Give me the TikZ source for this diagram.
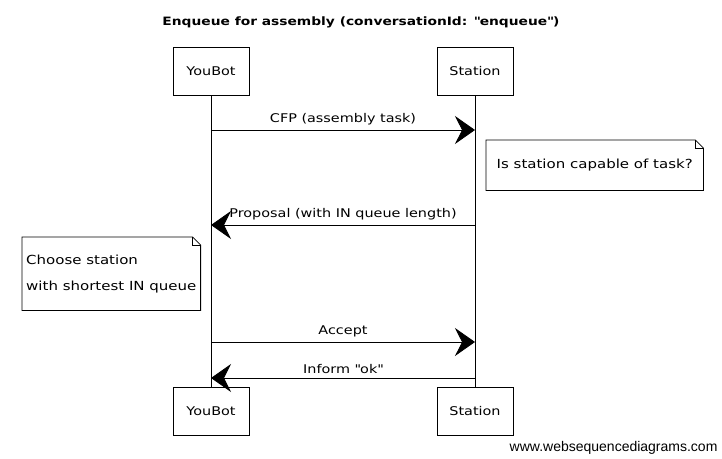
\documentclass[tikz,border=0pt]{standalone}
\usepackage{fontspec}
\setmainfont{DejaVu Sans}[FakeStretch=1.2]
\newfontfamily\wsdfont{Liberation Sans}
\usetikzlibrary{arrows.meta}

\newcommand{\notefold}[1]{%
  \draw[line width=0.8pt] (#1.south west) -- (#1.north west) -- ([xshift=-8pt]#1.north east)
    -- ([yshift=-8pt]#1.north east) -- (#1.south east) -- cycle;
  \draw[line width=0.6pt] ([xshift=-8pt]#1.north east) -- ([xshift=-8pt,yshift=-8pt]#1.north east)
    -- ([yshift=-8pt]#1.north east);}

\begin{document}
\begin{tikzpicture}[x=1pt,y=-1pt,
  actor/.style = {draw, line width=0.8pt, minimum width=76pt, minimum height=48pt, font=\fontsize{12}{14}\selectfont},
  note/.style = {align=left, anchor=north west, inner xsep=5pt, font=\fontsize{12.5}{26}\selectfont},
  msg/.style = {-{Stealth[length=20pt,width=28pt,inset=7pt]}, line width=0.8pt},
  lbl/.style = {midway, above=1pt, font=\fontsize{12}{14}\selectfont}]
\useasboundingbox (0,0) rectangle (722,458);
% title
\node (title) at (361,22) {\fontsize{11.5}{14}\selectfont\bfseries Enqueue for assembly (conversationId: \textquotedbl enqueue\textquotedbl)};
% participants
\node[actor] (bot) at (211,71) {YouBot};
\node[actor] (st) at (475,71) {Station};
\node[actor] (bot2) at (211,411) {YouBot};
\node[actor] (st2) at (475,411) {Station};
\draw[line width=0.6pt] (bot) -- (bot2);
\draw[line width=0.6pt] (st) -- (st2);
% points on the lifelines
\coordinate (b1) at (211,130); \coordinate (s1) at (475,130);
\coordinate (b2) at (211,225); \coordinate (s2) at (475,225);
\coordinate (b3) at (211,342); \coordinate (s3) at (475,342);
\coordinate (b4) at (211,378); \coordinate (s4) at (475,378);
% messages
\draw[msg] (b1) -- (s1) node[lbl] {CFP (assembly task)};
\draw[msg] (s2) -- (b2) node[lbl] {Proposal (with IN queue length)};
\draw[msg] (b3) -- (s3) node[lbl] {Accept};
\draw[msg] (s4) -- (b4) node[lbl] {Inform \textquotedbl ok\textquotedbl};
% notes
\node[note, minimum width=217pt, minimum height=50pt] (capable) at (486,140) {Is station capable of task?};
\notefold{capable}
\node[note, minimum width=178pt, minimum height=73pt, inner xsep=4pt] (choose) at (22,237) {Choose station\\with shortest IN queue};
\notefold{choose}
% watermark
\node[anchor=south east, font=\wsdfont\fontsize{14}{16}\selectfont] (wsd) at (721,458) {www.websequencediagrams.com};
\end{tikzpicture}
\end{document}
